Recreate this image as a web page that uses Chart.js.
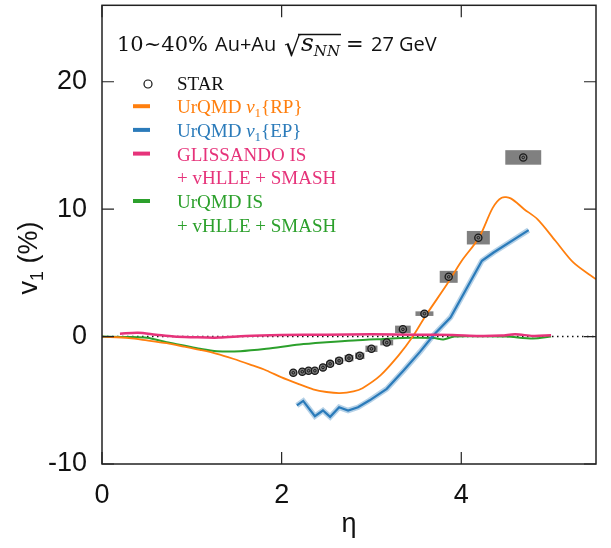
<!DOCTYPE html>
<html>
<head>
<meta charset="utf-8">
<script src="https://cdn.jsdelivr.net/npm/chart.js@4"></script>
<style>
  body { margin: 0; background: #fff; }
</style>
</head>
<body>
<canvas id="v1Chart" width="611" height="548"></canvas>
<script>
// axis ticks
const xTicks = [0, 2, 4];
const yTicks = [-10, 0, 10, 20];

// STAR data with systematic half-widths (eta) and half-heights (v1)
const etaStar = [2.13, 2.23, 2.30, 2.37, 2.46, 2.54, 2.64, 2.75, 2.87, 3.00, 3.17, 3.35, 3.59, 3.86, 4.19, 4.69];
const v1Star  = [-2.84, -2.76, -2.68, -2.68, -2.42, -2.14, -1.90, -1.69, -1.51, -0.96, -0.47, 0.57, 1.80, 4.69, 7.76, 14.06];
const sysEta  = [0.035, 0.035, 0.035, 0.035, 0.035, 0.04, 0.045, 0.05, 0.052, 0.067, 0.072, 0.087, 0.10, 0.10, 0.128, 0.20];
const sysV1   = [0.22, 0.22, 0.22, 0.22, 0.22, 0.22, 0.25, 0.25, 0.25, 0.25, 0.22, 0.29, 0.18, 0.47, 0.53, 0.57];

// UrQMD v1{RP}
const etaRP = [0, 0.3, 0.5, 0.72, 0.91, 1.09, 1.28, 1.46, 1.65, 1.83, 2.0, 2.2, 2.35, 2.5, 2.65, 2.8, 2.9, 3.1, 3.3, 3.45, 3.6, 3.85, 4.0, 4.2, 4.35, 4.45, 4.55, 4.7, 4.85, 5.05, 5.25, 5.5];
const v1RP  = [0, -0.12, -0.3, -0.52, -0.78, -1.04, -1.35, -1.74, -2.2, -2.66, -3.2, -3.75, -4.14, -4.35, -4.43, -4.3, -4.05, -3.05, -1.5, -0.1, 1.6, 4.2, 5.9, 7.8, 10.1, 10.9, 10.85, 10.0, 9.2, 7.5, 5.8, 4.5];

// UrQMD v1{EP}
const etaEP = [2.17, 2.24, 2.37, 2.46, 2.54, 2.64, 2.74, 2.85, 2.98, 3.17, 3.36, 3.54, 3.69, 3.88, 4.23, 4.36, 4.75];
const v1EP  = [-5.4, -5.05, -6.25, -5.8, -6.3, -5.55, -5.8, -5.55, -5.0, -4.1, -2.65, -1.2, 0.1, 1.5, 5.95, 6.6, 8.35];

// GLISSANDO IS + vHLLE + SMASH
const etaGl = [0.2, 0.4, 0.6, 0.8, 1.0, 1.3, 1.6, 2.0, 2.5, 3.0, 3.5, 3.9, 4.2, 4.45, 4.6, 4.8, 5.0];
const v1Gl  = [0.22, 0.3, 0.15, 0.0, -0.05, -0.08, 0.05, 0.12, 0.15, 0.18, 0.15, 0.12, 0.05, 0.08, 0.18, 0.05, 0.1];

// UrQMD IS + vHLLE + SMASH
const etaIS = [0, 0.3, 0.5, 0.72, 0.91, 1.09, 1.28, 1.54, 1.83, 2.2, 2.5, 2.8, 3.1, 3.45, 3.7, 3.8, 3.92, 4.2, 4.5, 4.8, 5.0];
const v1IS  = [0, -0.03, -0.1, -0.44, -0.7, -0.96, -1.15, -1.15, -0.96, -0.63, -0.45, -0.3, -0.2, -0.1, -0.12, -0.22, 0.0, 0.02, 0.0, -0.15, 0.0];

const orange = '#ff7f0e', blue = '#2b7bba', pink = '#e6337a', green = '#2ca02c';

const pts = (xs, ys) => xs.map((x, i) => ({x: x, y: ys[i]}));

const SERIF = '"Liberation Serif", serif';
const SANS = '"Liberation Sans", Arial, sans-serif';

function drawRuns(ctx, x, y, runs, color) {
  ctx.fillStyle = color;
  for (const r of runs) {
    ctx.font = r.font;
    ctx.fillText(r.t, x, y + (r.dy || 0));
    x += ctx.measureText(r.t).width;
  }
  return x;
}

const leg = (t) => ({t: t, font: '19px ' + SERIF});
const legIt = (t) => ({t: t, font: 'italic 19px ' + SERIF});
const legSub = (t) => ({t: t, font: '13px ' + SERIF, dy: 4});

const legendRows = [
  {mark: 'circle', color: '#111', runs: [leg('STAR')]},
  {mark: 'dash', color: orange, runs: [leg('UrQMD '), legIt('v'), legSub('1'), leg('{RP}')]},
  {mark: 'dash', color: blue, runs: [leg('UrQMD '), legIt('v'), legSub('1'), leg('{EP}')]},
  {mark: 'dash', color: pink, runs: [leg('GLISSANDO IS')]},
  {mark: null, color: pink, runs: [leg('+ vHLLE + SMASH')]},
  {mark: 'dash', color: green, runs: [leg('UrQMD IS')]},
  {mark: null, color: green, runs: [leg('+ vHLLE + SMASH')]}
];

const decorations = {
  id: 'decorations',
  beforeDatasetsDraw(chart) {
    // gray systematic boxes behind the STAR markers
    const {ctx, scales: {x, y}} = chart;
    ctx.save();
    ctx.fillStyle = '#808080';
    etaStar.forEach((e, i) => {
      const x0 = x.getPixelForValue(e - sysEta[i]);
      const x1 = x.getPixelForValue(e + sysEta[i]);
      const y0 = y.getPixelForValue(v1Star[i] + sysV1[i]);
      const y1 = y.getPixelForValue(v1Star[i] - sysV1[i]);
      ctx.fillRect(x0, y0, x1 - x0, y1 - y0);
    });
    ctx.restore();
  },
  afterDraw(chart) {
    const {ctx, chartArea: a, scales: {x, y}} = chart;
    ctx.save();

    // frame + inward ticks
    ctx.strokeStyle = '#222';
    ctx.lineWidth = 1.5;
    ctx.strokeRect(a.left, a.top, a.right - a.left, a.bottom - a.top);
    ctx.lineWidth = 1.2;
    ctx.beginPath();
    yTicks.forEach(v => {
      const py = y.getPixelForValue(v);
      ctx.moveTo(a.left, py); ctx.lineTo(a.left + 12, py);
      ctx.moveTo(a.right, py); ctx.lineTo(a.right - 12, py);
    });
    xTicks.forEach(v => {
      const px = x.getPixelForValue(v);
      ctx.moveTo(px, a.bottom); ctx.lineTo(px, a.bottom - 12);
      ctx.moveTo(px, a.top); ctx.lineTo(px, a.top + 12);
    });
    ctx.stroke();

    // y axis title, rotated
    ctx.save();
    ctx.translate(37, 258);
    ctx.rotate(-Math.PI / 2);
    ctx.textBaseline = 'alphabetic';
    const yRuns = [
      {t: 'v', font: '27px ' + SANS},
      {t: '1', font: '18px ' + SANS, dy: 6},
      {t: ' (%)', font: '27px ' + SANS}
    ];
    let w = 0;
    yRuns.forEach(r => { ctx.font = r.font; w += ctx.measureText(r.t).width; });
    drawRuns(ctx, -w / 2, 0, yRuns, '#111');
    ctx.restore();

    // header text
    ctx.textBaseline = 'alphabetic';
    ctx.fillStyle = '#111';
    ctx.font = '21px "DejaVu Serif"';
    ctx.fillText('10~40%', 117, 51);
    ctx.font = '20px "Open Sans"';
    ctx.fillText('Au+Au', 215, 51);
    ctx.font = '27px "DejaVu Sans"';
    ctx.fillText('\u221A', 284, 56);
    ctx.font = 'italic 25px "DejaVu Serif"';
    ctx.fillText('s', 301, 51);
    const sEnd = 301 + ctx.measureText('s').width;
    ctx.font = 'italic 15px "DejaVu Serif"';
    ctx.fillText('NN', sEnd, 56);
    ctx.lineWidth = 1.3;
    ctx.strokeStyle = '#111';
    ctx.beginPath();
    ctx.moveTo(298, 34.5); ctx.lineTo(341, 34.5);
    ctx.stroke();
    ctx.font = '21px "DejaVu Sans"';
    ctx.fillText('=', 346, 51);
    ctx.font = '20px "Open Sans"';
    ctx.fillText('27 GeV', 371, 51);

    // legend
    legendRows.forEach((row, i) => {
      const cy = 83 + i * 23.7;
      if (row.mark === 'circle') {
        ctx.beginPath();
        ctx.arc(148, cy + 1, 4, 0, Math.PI * 2);
        ctx.lineWidth = 1.2;
        ctx.strokeStyle = '#111';
        ctx.stroke();
      } else if (row.mark === 'dash') {
        ctx.fillStyle = row.color;
        ctx.fillRect(133, cy - 2.5, 17, 4);
      }
      drawRuns(ctx, 177, cy + 6.5, row.runs, row.color);
    });

    ctx.restore();
  }
};

new Chart(document.getElementById('v1Chart'), {
  type: 'scatter',
  data: {
    datasets: [
      {
        label: 'zero',
        data: pts([0, 5.5], [0, 0]),
        showLine: true, borderColor: '#111', borderWidth: 1.5, borderDash: [1.5, 3.5],
        pointRadius: 0, order: 10
      },
      {
        label: 'UrQMD IS + vHLLE + SMASH',
        data: pts(etaIS, v1IS),
        showLine: true, borderColor: green, borderWidth: 2, tension: 0.3,
        pointRadius: 0, order: 6
      },
      {
        label: 'UrQMD v1{RP}',
        data: pts(etaRP, v1RP),
        showLine: true, borderColor: orange, borderWidth: 1.8, tension: 0.3,
        pointRadius: 0, order: 5
      },
      {
        label: 'UrQMD v1{EP} band',
        data: pts(etaEP, v1EP),
        showLine: true, borderColor: 'rgba(43,123,186,0.35)', borderWidth: 5.5,
        pointRadius: 0, order: 4
      },
      {
        label: 'UrQMD v1{EP}',
        data: pts(etaEP, v1EP),
        showLine: true, borderColor: blue, borderWidth: 2.2,
        pointRadius: 0, order: 3
      },
      {
        label: 'GLISSANDO IS + vHLLE + SMASH',
        data: pts(etaGl, v1Gl),
        showLine: true, borderColor: pink, borderWidth: 2.5, tension: 0.3,
        pointRadius: 0, order: 2
      },
      {
        label: 'STAR',
        data: pts(etaStar, v1Star),
        showLine: false, pointRadius: 3.6, pointBackgroundColor: '#7a7a7a',
        pointBorderColor: '#1a1a1a', pointBorderWidth: 1.3, order: 1
      },
      {
        label: 'STAR inner',
        data: pts(etaStar, v1Star),
        showLine: false, pointRadius: 1.3, pointBackgroundColor: 'rgba(0,0,0,0)',
        pointBorderColor: '#111', pointBorderWidth: 0.9, order: 0
      }
    ]
  },
  options: {
    responsive: false,
    animation: false,
    events: [],
    layout: { padding: {left: 0, top: 3, right: 15, bottom: 0} },
    plugins: { legend: {display: false}, tooltip: {enabled: false} },
    scales: {
      x: {
        type: 'linear', min: 0, max: 5.5,
        afterBuildTicks: s => { s.ticks = xTicks.map(v => ({value: v})); },
        afterFit: s => { s.height = 84; s.paddingLeft = 0; s.paddingRight = 0; },
        grid: {display: false, drawTicks: false},
        border: {display: false},
        ticks: {color: '#111', padding: 15, font: {family: SANS, size: 27}},
        title: {display: true, text: 'η', color: '#111', padding: {top: 0, bottom: 7}, font: {family: SANS, size: 27}}
      },
      y: {
        type: 'linear', min: -10, max: 26,
        afterBuildTicks: s => { s.ticks = yTicks.map(v => ({value: v})); },
        afterFit: s => { s.width = 102; s.paddingTop = 0; s.paddingBottom = 0; },
        grid: {display: false, drawTicks: false},
        border: {display: false},
        ticks: {color: '#111', padding: 15, font: {family: SANS, size: 27}}
      }
    }
  },
  plugins: [decorations]
});
</script>
</body>
</html>
